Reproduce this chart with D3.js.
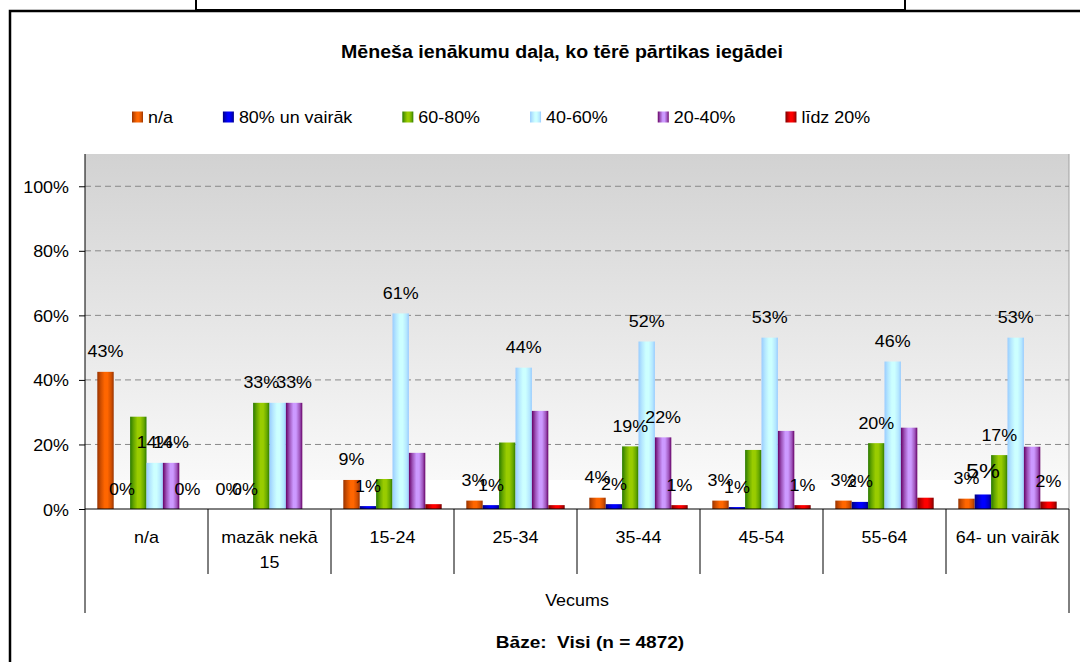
<!DOCTYPE html>
<html>
<head>
<meta charset="utf-8">
<script src="https://cdn.jsdelivr.net/npm/d3@7"></script>
<style>
  html, body { margin: 0; padding: 0; background: #fff; }
  svg { display: block; font-family: "Liberation Sans", Arial, sans-serif; }
  text { white-space: pre; }
</style>
</head>
<body>
<svg id="chart" width="1080" height="662"></svg>
<script>
// age groups (x axis)
var categories = ["n/a", "mazāk nekā 15", "15-24", "25-34", "35-44", "45-54", "55-64", "64- un vairāk"];
var seriesNames = ["n/a", "80% un vairāk", "60-80%", "40-60%", "20-40%", "līdz 20%"];

// share of answers, % per age group
var naVals     = [42.5, 0,    9.0,  2.6,  3.5,  2.6,  2.6,  3.2];
var over80Vals = [0,    0,    0.9,  1.2,  1.5,  0.6,  2.2,  4.5];
var p60to80    = [28.6, 32.9, 9.3,  20.6, 19.4, 18.3, 20.4, 16.7];
var p40to60    = [14.3, 32.9, 60.6, 43.8, 51.9, 53.1, 45.7, 53.1];
var p20to40    = [14.3, 32.9, 17.4, 30.4, 22.2, 24.2, 25.2, 19.3];
var under20    = [0,    0,    1.5,  1.2,  1.2,  1.2,  3.5,  2.3];

// which data labels are visible in the original
var naShown     = [1, 1, 1, 1, 1, 1, 1, 1];
var over80Shown = [1, 1, 1, 1, 1, 1, 1, 1];
var p60Shown    = [0, 1, 0, 0, 1, 0, 1, 1];
var p40Shown    = [1, 0, 1, 1, 1, 1, 1, 1];
var p20Shown    = [1, 1, 0, 0, 1, 0, 0, 0];
var under20Shown= [1, 0, 0, 0, 1, 1, 0, 1];

var yTicks = [0, 20, 40, 60, 80, 100];

var seriesVals = [naVals, over80Vals, p60to80, p40to60, p20to40, under20];
var seriesShown = [naShown, over80Shown, p60Shown, p40Shown, p20Shown, under20Shown];
// bright / dark colours of the shaded bars
var colors = [
  ["#ff6600", "#993300"],
  ["#0000ff", "#000080"],
  ["#99cc00", "#2a7a00"],
  ["#ccffff", "#99ccff"],
  ["#cc99ff", "#660066"],
  ["#ff0000", "#7a0000"]
];

var stretch = 1.12;
var svg = d3.select("#chart");

function txt(g, x, y, s, size, anchor, bold) {
  return g.append("text")
    .attr("transform", "translate(" + x + "," + y + ") scale(" + stretch + ",1)")
    .attr("text-anchor", anchor || "start")
    .attr("font-size", size + "px")
    .attr("font-weight", bold ? "bold" : "normal")
    .attr("fill", "#000")
    .text(s);
}

var defs = svg.append("defs");
colors.forEach(function(c, i) {
  var mid = d3.interpolateRgb(c[1], c[0])(0.55);
  var gr = defs.append("linearGradient").attr("id", "bar" + i)
    .attr("x1", "0").attr("x2", "1").attr("y1", "0").attr("y2", "0");
  gr.append("stop").attr("offset", "0").attr("stop-color", c[1]);
  gr.append("stop").attr("offset", "0.22").attr("stop-color", mid);
  gr.append("stop").attr("offset", "0.45").attr("stop-color", c[0]);
  gr.append("stop").attr("offset", "0.62").attr("stop-color", c[0]);
  gr.append("stop").attr("offset", "0.85").attr("stop-color", mid);
  gr.append("stop").attr("offset", "1").attr("stop-color", c[1]);
});
var bg = defs.append("linearGradient").attr("id", "plotbg")
  .attr("x1", "0").attr("x2", "0").attr("y1", "0").attr("y2", "1");
bg.append("stop").attr("offset", "0").attr("stop-color", "#d2d2d2");
bg.append("stop").attr("offset", "1").attr("stop-color", "#f9f9f9");

// frames
svg.append("path").attr("d", "M196,0 V10 H905 V0").attr("fill", "none").attr("stroke", "#000").attr("stroke-width", 2);
svg.append("path").attr("d", "M10,662 V11 H1080").attr("fill", "none").attr("stroke", "#000").attr("stroke-width", 2.5);

var pLeft = 85, pRight = 1069, pTop = 154, pBottom = 509;

var x0 = d3.scaleBand().domain(categories).range([pLeft, pRight]);
var x1 = d3.scaleBand().domain(d3.range(seriesNames.length)).range([0, x0.bandwidth()])
  .paddingInner(0).paddingOuter(0.75);
var y = d3.scaleLinear().domain([0, 110]).range([pBottom, pTop]);

// plot background
svg.append("rect").attr("x", pLeft).attr("y", pTop).attr("width", pRight - pLeft).attr("height", y(9) - pTop)
  .attr("fill", "url(#plotbg)");
svg.append("line").attr("x1", pRight).attr("x2", pRight).attr("y1", pTop).attr("y2", pBottom)
  .attr("stroke", "#a0a0a0");

// grid
svg.append("g").selectAll("line").data(yTicks.filter(function(d) { return d > 0; })).enter()
  .append("line")
  .attr("x1", pLeft).attr("x2", pRight)
  .attr("y1", function(d) { return y(d); }).attr("y2", function(d) { return y(d); })
  .attr("stroke", "#888").attr("stroke-dasharray", "6,4");

// y axis
var yAxis = svg.append("g").attr("transform", "translate(" + pLeft + ",0)")
  .call(d3.axisLeft(y).tickValues(yTicks).tickSize(6).tickFormat(function(d) { return d + "%"; }));
yAxis.select(".domain").attr("d", "M0," + pTop + "V" + pBottom).attr("stroke", "#000");
yAxis.selectAll(".tick line").attr("stroke", "#000");
yAxis.selectAll(".tick text").remove();
yAxis.selectAll(".tick").each(function(d) {
  txt(d3.select(this), -16, 6, d + "%", 16, "end");
});

// bars
var groups = svg.append("g").selectAll("g").data(categories).enter().append("g")
  .attr("transform", function(d) { return "translate(" + x0(d) + ",0)"; });

groups.each(function(cat, ci) {
  var g = d3.select(this);
  seriesVals.forEach(function(vals, si) {
    var v = vals[ci];
    g.append("rect")
      .attr("x", x1(si)).attr("width", x1.bandwidth())
      .attr("y", y(v)).attr("height", pBottom - y(v))
      .attr("fill", "url(#bar" + si + ")");
  });
});

// data labels
groups.each(function(cat, ci) {
  var g = d3.select(this);
  seriesVals.forEach(function(vals, si) {
    if (!seriesShown[si][ci]) return;
    var v = vals[ci];
    var big = (si === 1 && ci === categories.length - 1);
    txt(g, x1(si) + x1.bandwidth() / 2, y(v) - (big ? 16 : 14.5), Math.round(v) + "%", big ? 21 : 16, "middle");
  });
});

// x axis line and category boxes
svg.append("line").attr("x1", pLeft).attr("x2", pRight).attr("y1", pBottom).attr("y2", pBottom)
  .attr("stroke", "#000");
var bounds = categories.map(function(c) { return x0(c); }).concat([pRight]);
svg.append("g").selectAll("line").data(bounds).enter().append("line")
  .attr("x1", function(d) { return d; }).attr("x2", function(d) { return d; })
  .attr("y1", pBottom)
  .attr("y2", function(d, i) { return (i === 0 || i === bounds.length - 1) ? 613 : 574; })
  .attr("stroke", "#000");

var catG = svg.append("g");
categories.forEach(function(c) {
  var cx = x0(c) + x0.bandwidth() / 2;
  var lines = c === "mazāk nekā 15" ? ["mazāk nekā", "15"] : [c];
  lines.forEach(function(l, i) {
    txt(catG, cx, 543 + i * 25, l, 16, "middle");
  });
});

txt(svg, (pLeft + pRight) / 2, 606, "Vecums", 16, "middle");

// title and base
txt(svg, 562, 58, "Mēneša ienākumu daļa, ko tērē pārtikas iegādei", 17.5, "middle", true);
txt(svg, 590, 648, "Bāze:  Visi (n = 4872)", 17, "middle", true);

// legend
var lg = svg.append("g");
var lx = 132;
seriesNames.forEach(function(s, i) {
  lg.append("rect").attr("x", lx).attr("y", 111.5).attr("width", 11).attr("height", 11)
    .attr("fill", "url(#bar" + i + ")");
  var t = txt(lg, lx + 16, 123, s, 16, "start");
  lx += 16 + t.node().getComputedTextLength() * stretch + 50;
});
</script>
</body>
</html>
